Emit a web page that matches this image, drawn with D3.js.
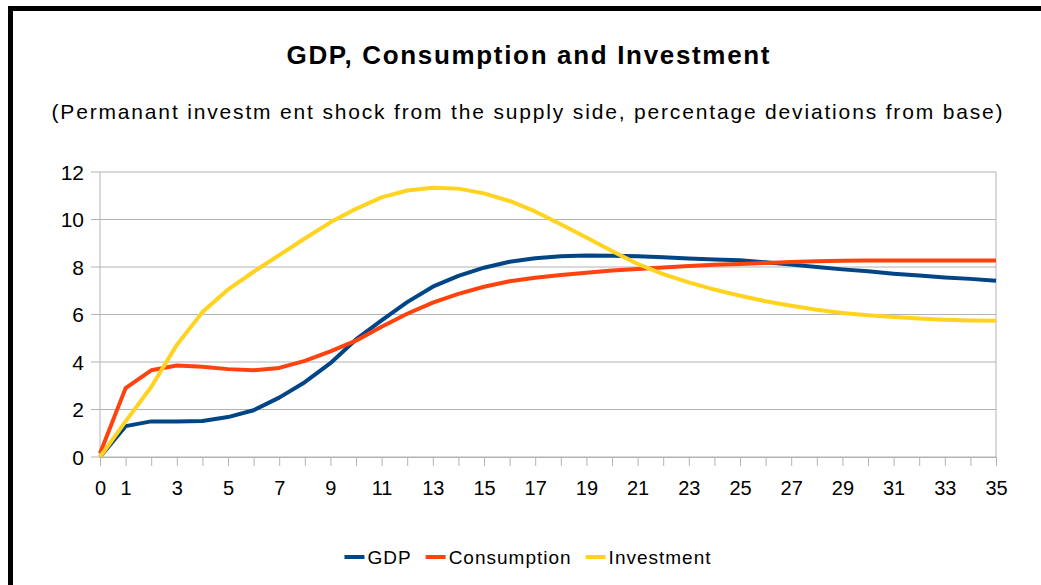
<!DOCTYPE html>
<html>
<head>
<meta charset="utf-8">
<script src="https://cdn.jsdelivr.net/npm/d3@7"></script>
<style>
  body { margin: 0; background: #fff; }
  text { font-family: 'Liberation Sans', Arial, sans-serif; fill: #000; }
</style>
</head>
<body>
<script>
// periods 0..35
const periods = d3.range(0, 36);
const xLabels = [0, 1, 3, 5, 7, 9, 11, 13, 15, 17, 19, 21, 23, 25, 27, 29, 31, 33, 35];
const yTicks = [0, 2, 4, 6, 8, 10, 12];

const gdp = [0, 1.3, 1.5, 1.5, 1.52, 1.68, 1.97, 2.5, 3.15, 3.95, 4.95, 5.75, 6.52, 7.17, 7.63, 7.97, 8.22, 8.37, 8.45, 8.48,
  8.47, 8.45, 8.41, 8.36, 8.32, 8.28, 8.2, 8.1, 8.0, 7.9, 7.82, 7.72, 7.64, 7.56, 7.5, 7.42];
const consumption = [0.15, 2.9, 3.65, 3.85, 3.8, 3.7, 3.65, 3.75, 4.05, 4.45, 4.9, 5.48, 6.03, 6.5, 6.87, 7.17, 7.4, 7.55, 7.66, 7.76,
  7.85, 7.92, 7.98, 8.04, 8.09, 8.13, 8.17, 8.21, 8.24, 8.26, 8.27, 8.27, 8.27, 8.27, 8.27, 8.27];
const investment = [0, 1.5, 2.95, 4.72, 6.1, 7.05, 7.8, 8.5, 9.2, 9.88, 10.45, 10.93, 11.22, 11.34, 11.3, 11.1, 10.78, 10.34, 9.8, 9.24,
  8.67, 8.13, 7.7, 7.35, 7.05, 6.79, 6.56, 6.37, 6.2, 6.06, 5.97, 5.89, 5.83, 5.78, 5.75, 5.74];

const seriesNames = ['GDP', 'Consumption', 'Investment'];
const seriesColors = ['#004586', '#ff420e', '#ffd320'];
const seriesData = [gdp, consumption, investment];

const W = 1041, H = 585;
const plot = { left: 100, right: 996, top: 172, bottom: 457 };

const svg = d3.select('body').append('svg')
  .attr('width', W)
  .attr('height', H);

// frame (only top and left edges visible)
svg.append('rect').attr('x', 8).attr('y', 6).attr('width', W - 8).attr('height', 5).attr('fill', '#000');
svg.append('rect').attr('x', 8).attr('y', 6).attr('width', 5).attr('height', H - 6).attr('fill', '#000');

svg.append('text')
  .attr('x', 528).attr('y', 64)
  .attr('text-anchor', 'middle')
  .style('font-size', '26px')
  .style('font-weight', 'bold')
  .attr('textLength', 483)
  .attr('lengthAdjust', 'spacing')
  .text('GDP,  Consumption and Investment');

svg.append('text')
  .attr('x', 527).attr('y', 119)
  .attr('text-anchor', 'middle')
  .style('font-size', '21px')
  .attr('textLength', 951)
  .attr('lengthAdjust', 'spacing')
  .text('(Permanant investm ent shock from the supply side, percentage deviations from base)');

const x = d3.scaleLinear().domain([0, 35]).range([plot.left, plot.right]);
const y = d3.scaleLinear().domain([0, 12]).range([plot.bottom, plot.top]);

const grid = '#b3b3b3';

// horizontal gridlines + y tick marks
svg.append('g')
  .selectAll('line')
  .data(yTicks)
  .enter()
  .append('line')
  .attr('x1', plot.left - 9)
  .attr('x2', plot.right)
  .attr('y1', d => y(d))
  .attr('y2', d => y(d))
  .style('stroke', grid)
  .style('stroke-width', '1px');

svg.append('g')
  .selectAll('text')
  .data(yTicks)
  .enter()
  .append('text')
  .attr('x', 84)
  .attr('y', d => y(d))
  .attr('dy', '0.36em')
  .attr('text-anchor', 'end')
  .style('font-size', '21px')
  .text(d => d);

// left + right plot borders
svg.append('line').attr('x1', plot.left).attr('x2', plot.left).attr('y1', plot.top).attr('y2', plot.bottom)
  .style('stroke', grid);
svg.append('line').attr('x1', plot.right).attr('x2', plot.right).attr('y1', plot.top).attr('y2', plot.bottom)
  .style('stroke', grid);

// x axis
const xAxis = d3.axisBottom(x)
  .tickValues(periods)
  .tickSize(9)
  .tickFormat(d => xLabels.includes(d) ? d : '');

const gx = svg.append('g')
  .attr('transform', `translate(0, ${plot.bottom})`)
  .call(xAxis);
gx.select('.domain').attr('stroke', grid);
gx.selectAll('.tick line').attr('stroke', grid);
gx.selectAll('.tick text')
  .attr('y', 24)
  .attr('dy', '0.71em')
  .style('font-size', '20px')
  .attr('font-family', null)
  .attr('fill', '#000');

// series lines
const line = d3.line()
  .x((d, i) => x(periods[i]))
  .y(d => y(d));

svg.append('g')
  .selectAll('path')
  .data(seriesData)
  .enter()
  .append('path')
  .attr('d', d => line(d))
  .style('fill', 'none')
  .style('stroke', (d, i) => seriesColors[i])
  .style('stroke-width', '4px')
  .style('stroke-linejoin', 'round');

// legend
const legend = svg.append('g');
let lx = 0;
seriesNames.forEach((name, i) => {
  const item = legend.append('g').attr('transform', `translate(${lx}, 0)`);
  item.append('line')
    .attr('x1', 0).attr('x2', 20)
    .attr('y1', 0).attr('y2', 0)
    .style('stroke', seriesColors[i])
    .style('stroke-width', '4px');
  const t = item.append('text')
    .attr('x', 23)
    .attr('dy', '0.36em')
    .style('font-size', '19px')
    .style('letter-spacing', '1px')
    .text(name);
  lx += 23 + t.node().getComputedTextLength() + 14;
});
const legendWidth = lx - 14;
legend.attr('transform', `translate(${528 - legendWidth / 2}, 557)`);
</script>
</body>
</html>
